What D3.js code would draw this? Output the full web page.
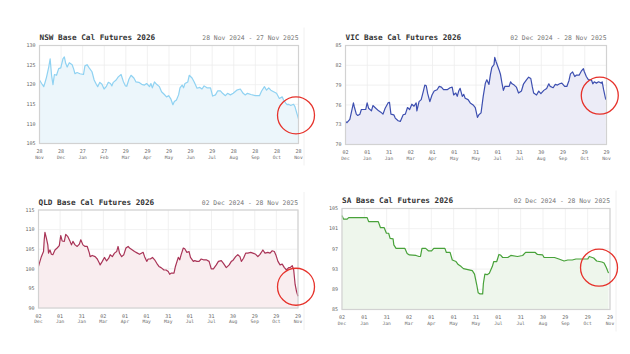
<!DOCTYPE html>
<html>
<head>
<meta charset="utf-8">
<script src="https://cdn.jsdelivr.net/npm/d3@7"></script>
<style>
  body { margin: 0; background: #fff; }
  svg { display: block; }
  text { font-family: "DejaVu Sans Mono", "Liberation Mono", monospace; }
</style>
</head>
<body>
<div id="chart"></div>
<script>
// NSW - day offset from first date, price
const nswDays = [0,3,6,8,10,13,15,17,19,21,24,27,30,33,35,37,39,42,46,48,50,53,57,62,64,67,70,74,77,80,82,85,88,91,94,97,100,102,104,108,111,115,118,121,123,126,129,133,136,140,144,148,151,155,157,159,162,165,169,172,176,179,182,185,188,190,193,196,198,201,203,205,209,211,215,218,222,226,229,232,236,241,244,248,251,255,258,262,265,269,273,278,283,287,290,293,298,304,310,313,317,320,323,326,330,334,338,342,344,347,349,351,354,358,360,363,365];
const nswValues = [121.2,120.3,119.5,120.7,122,124.5,126.6,122.4,120,122.6,122.4,124.1,124.3,126.6,127.1,125.4,124.5,125.6,125.1,124.1,122.8,123.1,122.8,122.6,124.8,125.1,124.3,123.3,121.2,120.1,119.5,120.6,120.1,118.9,119.5,120.6,120.3,119.7,120.6,121.2,122,122.6,120.9,119.7,119.6,121.4,122.4,121.7,120.7,120.6,120.1,119.9,120.3,119.5,120.3,119.2,120.7,120.1,119.5,118.2,117.5,116.9,117.2,116.4,114.9,115.7,116.1,117.4,119.2,119.9,119.2,120.3,120.7,122.4,121.7,120.7,119.1,119.3,118.9,119.7,119.2,119.2,117.1,117.4,118.4,118.4,117.8,117.2,117.8,117.4,117.8,118.6,118.9,117.8,117.4,117.8,117.5,117.2,117.2,118.4,119.5,118.6,119.2,118.6,118.2,117.8,116.5,116.9,116.1,115.3,114.9,115,114.7,115,114.4,112.5,111.3];
const nswYTicks = [105,110,115,120,125,130];
const nswXLabels = [["28","Nov"],["28","Dec"],["27","Jan"],["27","Feb"],["29","Mar"],["29","Apr"],["29","May"],["29","Jun"],["29","Jul"],["28","Aug"],["28","Sep"],["28","Oct"],["28","Nov"]];

// VIC
const vicDays = [0,2,6,8,11,12,15,17,20,22,25,28,30,32,36,38,42,46,49,52,55,59,61,63,67,69,73,76,80,83,86,89,92,95,98,99,102,105,108,110,112,114,117,120,123,127,130,133,136,141,145,148,150,153,155,157,159,162,164,166,170,173,177,180,183,185,188,191,194,196,199,201,203,206,207,209,213,215,217,219,221,224,227,229,231,234,237,240,244,247,251,254,257,259,261,265,268,271,275,279,282,284,288,291,294,297,300,304,307,310,312,315,318,320,324,327,330,331,334,337,341,343,345,348,351,355,356,358,361];
const vicValues = [73.5,73.3,73.8,74.8,76.3,75.8,74.6,74.4,74.6,75.3,75.3,75.3,76.3,75.5,75.1,75.9,75.5,75.1,74.9,74.6,75.5,76.3,76.4,74.6,74.5,74,73.6,73.5,74.5,74.6,75.6,75.3,76.1,75.8,76.3,75.1,76.5,76.8,78.1,79,78.9,77.7,76.5,77.5,78.1,78.3,78.8,78.7,78.3,78.3,78.6,78.7,77.5,77.8,77.3,78.1,78.5,77.3,77.6,77,76.8,76.3,76,75.6,74.1,74.5,74.8,77.3,79.3,79.8,79.1,80.6,81.7,82.1,83.2,82.5,81.3,80.6,79.3,78.2,78.8,78.8,78.8,79.5,79.2,79,78.7,77.8,78.1,79.2,79.8,80.2,80,78.8,77.8,77.5,78.1,77.7,78.2,78.5,79.2,78.8,78.6,79.1,79,79.2,79.3,78.8,78.8,79.7,80.7,81,80.3,80.5,80.5,81.1,81.5,81.1,80.3,79.8,79.8,79.2,79.5,79.3,79.5,79.3,79.5,78.3,76.8];
const vicYTicks = [70,73,76,79,82,85];
const vicXLabels = [["02","Dec"],["01","Jan"],["31","Jan"],["02","Mar"],["01","Apr"],["01","May"],["31","May"],["01","Jul"],["31","Jul"],["30","Aug"],["29","Sep"],["29","Oct"],["29","Nov"]];

// QLD
const qldDays = [0,2,4,7,8,9,11,13,14,16,18,20,23,26,29,31,33,36,38,41,44,46,48,51,54,57,59,62,65,68,71,72,75,79,82,85,86,89,92,95,98,100,103,106,109,111,113,116,119,122,125,127,131,134,138,141,146,148,151,153,156,159,162,165,168,171,175,178,181,183,185,189,191,195,197,199,202,204,207,210,212,216,218,221,224,227,230,234,238,241,244,248,251,255,258,262,266,269,271,275,278,281,283,286,289,292,296,299,303,306,309,313,316,320,323,326,329,331,334,337,340,343,346,349,351,354,356,358,360,362];
const qldValues = [100.6,101.9,103.1,104.4,107.4,109.3,107.8,106.1,104,104.8,103.7,103.6,104.8,105.3,105.9,108.5,107.1,107,108.8,108.2,107,106.1,107,106.1,105.7,106.3,107.4,106.1,105.7,105.7,104,103.1,103.4,103.1,102.5,101.4,101,101.9,102.9,102,102.7,103.6,103.1,104,104.4,105.7,104,103.1,103.6,105.3,105.7,105.3,104.8,104.4,104,103.7,104.2,103.1,101.9,102.5,102.5,102.9,102.3,101.4,100.6,100.3,99.7,99.7,99.3,98.6,98.9,98.9,100.6,102.9,102.3,103.6,105.3,105.1,104.2,104.4,102.9,101.9,102.1,101.9,101.9,102.5,102.3,102.3,101.9,100,100,101,101.9,102.1,101.4,100.3,101,101.9,102.1,103.1,103.6,103.1,101.9,102.7,104,104,104.2,104,103.7,103.1,103.7,104.8,104,104.2,104,104.6,104.4,103.6,101.9,101,101.2,100.3,99.7,100.3,100.3,100.8,99.7,96,94.2,93];
const qldYTicks = [90,95,100,105,110,115];
const qldXLabels = vicXLabels;

// SA
const saDays = [0,2,7,9,16,34,36,49,52,57,60,63,65,69,70,73,85,88,91,100,104,106,108,113,117,121,124,139,141,146,149,154,157,161,164,170,176,179,182,184,186,190,191,193,196,199,203,205,209,212,214,217,224,228,237,244,248,261,264,271,273,287,293,300,305,311,316,332,334,340,344,351,354,357,360];
const saValues = [103.6,102.9,102.9,103.2,103.2,103.2,102.4,102.4,101.2,101.2,100.1,100.1,99.1,99,97.8,97.1,97.1,96.1,95.8,95.7,95.5,95.5,97.1,97.1,96.6,96.6,97.1,97.1,96.3,96.3,94.8,94.5,93.9,93.5,93.1,92.9,92.7,92,89.9,88.3,88.1,88.1,90.2,92,91.9,92.2,93.5,94.5,94.5,95.9,95.8,95.3,95.3,95.7,95.5,95.7,96.3,96.3,95.9,95.8,95.3,95.3,95,94.6,94.8,94.8,95,95,95.5,95.2,94.6,94.4,94.2,93.3,92.2];
const saYTicks = [85,89,93,97,101,105];
const saXLabels = vicXLabels;

const panels = [
  {title: "NSW Base Cal Futures 2026", range: "28 Nov 2024 - 27 Nov 2025", days: nswDays, values: nswValues,
   yTicks: nswYTicks, xLabels: nswXLabels, span: 365, color: "#8fd2f2", fill: "#ecf6fb",
   box: {left: 39.5, top: 45.5, right: 298.5, bottom: 143.5}, ring: [-2.5, -3.5], edge: 304},
  {title: "VIC Base Cal Futures 2026", range: "02 Dec 2024 - 28 Nov 2025", days: vicDays, values: vicValues,
   yTicks: vicYTicks, xLabels: vicXLabels, span: 362, color: "#3d4fb0", fill: "#ececf7",
   box: {left: 345.5, top: 45.5, right: 606.5, bottom: 144.5}, ring: [-6, -4], edge: null},
  {title: "QLD Base Cal Futures 2026", range: "02 Dec 2024 - 28 Nov 2025", days: qldDays, values: qldValues,
   yTicks: qldYTicks, xLabels: qldXLabels, span: 362, color: "#a93457", fill: "#f9edef",
   box: {left: 38.5, top: 210, right: 298, bottom: 308}, ring: [-2, -9.5], edge: 304},
  {title: "SA Base Cal Futures 2026", range: "02 Dec 2024 - 28 Nov 2025", days: saDays, values: saValues,
   yTicks: saYTicks, xLabels: saXLabels, span: 362, color: "#48a23a", fill: "#eef6ec",
   box: {left: 342, top: 208.5, right: 610, bottom: 309.5}, ring: [-9.5, -5.5], edge: 616}
];

const W = 630, H = 354;
const svg = d3.select("#chart").append("svg")
  .attr("width", W).attr("height", H);

panels.forEach(p => {
  const b = p.box;
  const g = svg.append("g");

  const x = d3.scaleLinear().domain([0, p.span]).range([b.left, b.right]);
  const y = d3.scaleLinear().domain(d3.extent(p.yTicks)).range([b.bottom, b.top]);
  const xl = d3.scalePoint().domain(d3.range(p.xLabels.length)).range([b.left, b.right]);

  const pts = p.days.map((d, i) => ({day: d, v: p.values[i]}));

  if (p.edge) {
    g.append("line")
      .attr("x1", p.edge).attr("x2", p.edge)
      .attr("y1", b.top - 18).attr("y2", b.bottom + 22)
      .attr("stroke", "#f0f0f0").attr("stroke-width", 1);
  }

  // grid
  g.selectAll(".vg").data(xl.domain()).enter().append("line")
    .attr("x1", d => xl(d)).attr("x2", d => xl(d))
    .attr("y1", b.top).attr("y2", b.bottom)
    .attr("stroke", "#ededed").attr("stroke-width", 0.8);
  g.selectAll(".hg").data(p.yTicks).enter().append("line")
    .attr("x1", b.left).attr("x2", b.right)
    .attr("y1", d => y(d)).attr("y2", d => y(d))
    .attr("stroke", "#ededed").attr("stroke-width", 0.8);

  // area + line
  g.append("path").datum(pts)
    .attr("fill", p.fill)
    .attr("d", d3.area().x(d => x(d.day)).y0(b.bottom).y1(d => y(d.v)));
  g.append("path").datum(pts)
    .attr("fill", "none")
    .attr("stroke", p.color)
    .attr("stroke-width", 1.2)
    .attr("stroke-linejoin", "round")
    .attr("d", d3.line().x(d => x(d.day)).y(d => y(d.v)));

  // frame
  g.append("rect")
    .attr("x", b.left).attr("y", b.top)
    .attr("width", b.right - b.left).attr("height", b.bottom - b.top)
    .attr("fill", "none").attr("stroke", "#d2d2d2").attr("stroke-width", 1.2);

  // y labels
  g.selectAll(".yl").data(p.yTicks).enter().append("text")
    .attr("x", b.left - 4).attr("y", d => y(d) + 1.7)
    .attr("text-anchor", "end")
    .attr("font-size", 5).attr("fill", "#666")
    .text(d => d);

  // x labels
  const xg = g.selectAll(".xl").data(p.xLabels).enter().append("g");
  xg.append("text")
    .attr("x", (d, i) => xl(i)).attr("y", b.bottom + 9.5)
    .attr("text-anchor", "middle").attr("font-size", 5).attr("fill", "#666")
    .text(d => d[0]);
  xg.append("text")
    .attr("x", (d, i) => xl(i)).attr("y", b.bottom + 15)
    .attr("text-anchor", "middle").attr("font-size", 4.6).attr("fill", "#666")
    .text(d => d[1]);

  // titles
  g.append("text")
    .attr("x", b.left).attr("y", b.top - 5.5)
    .attr("font-size", 7.7).attr("font-weight", "bold").attr("fill", "#333")
    .text(p.title);
  g.append("text")
    .attr("x", b.right).attr("y", b.top - 5.5)
    .attr("text-anchor", "end")
    .attr("font-size", 6.4).attr("fill", "#777")
    .text(p.range);

  // red ring around the latest value
  const last = pts[pts.length - 1];
  g.append("circle")
    .attr("cx", x(last.day) + p.ring[0]).attr("cy", y(last.v) + p.ring[1])
    .attr("r", 18.5)
    .attr("fill", "none").attr("stroke", "#e6322b").attr("stroke-width", 1.3);
});
</script>
</body>
</html>
